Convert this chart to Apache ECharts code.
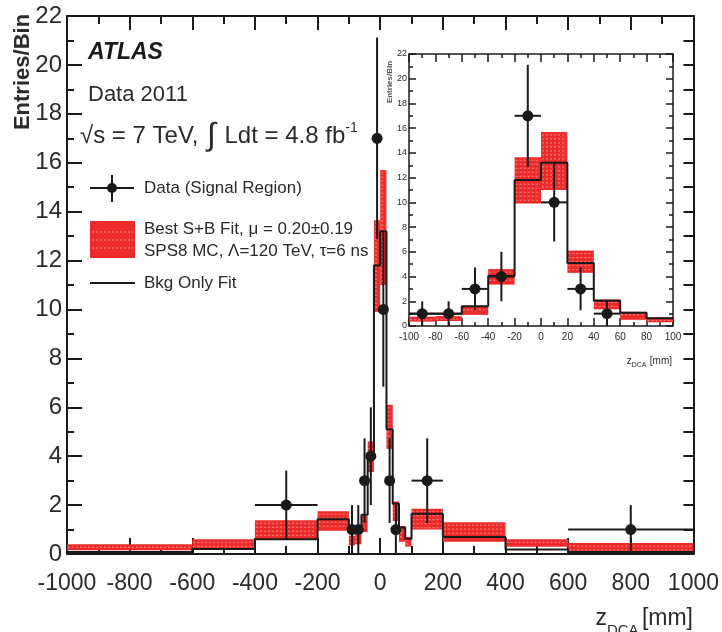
<!DOCTYPE html>
<html>
<head>
<meta charset="utf-8">
<script src="https://cdn.jsdelivr.net/npm/echarts@6/dist/echarts.min.js"></script>
<style>
  html, body { margin: 0; padding: 0; background: #fff; }
  #chart { width: 722px; height: 632px; }
</style>
</head>
<body>
<div id="chart"></div>
<script>
// Histogram bin edges along z_DCA (mm)
const binEdges = [-1000, -600, -400, -200, -100, -80, -60, -40, -20, 0, 20, 40, 60, 80, 100, 200, 400, 600, 1000];
// Best S+B fit: lower / upper edge of the uncertainty band per bin
const sbLow  = [0.15, 0.25, 0.60, 0.95, 0.35, 0.40, 0.90, 3.35, 9.90, 11.00, 4.30, 1.35, 0.50, 0.30, 1.00, 0.50, 0.30, 0.05];
const sbHigh = [0.40, 0.60, 1.38, 1.75, 0.75, 0.80, 1.55, 4.60, 13.65, 15.70, 6.10, 2.15, 1.15, 0.70, 1.85, 1.30, 0.60, 0.45];
// Background-only fit per bin
const bkgOnly = [0.08, 0.20, 0.60, 1.42, 1.00, 1.00, 1.60, 4.05, 11.80, 13.20, 5.10, 2.05, 1.08, 0.62, 1.65, 0.70, 0.18, 0.08];

// Data (signal region): bin centre, entries, error, bin half width
const dataZ      = [-300, -90, -70, -50, -30, -10, 10, 30, 50, 150, 800];
const dataCounts = [2, 1, 1, 3, 4, 17, 10, 3, 1, 3, 1];
const dataErr    = [1.41, 1.0, 1.0, 1.73, 2.0, 4.12, 3.16, 1.73, 1.0, 1.73, 1.0];
const dataHalfW  = [100, 10, 10, 10, 10, 10, 10, 10, 10, 50, 200];

// Axis tick labels
const mainXTicks  = [-1000, -800, -600, -400, -200, 0, 200, 400, 600, 800, 1000];
const mainYTicks  = [0, 2, 4, 6, 8, 10, 12, 14, 16, 18, 20, 22];
const insetXTicks = [-100, -80, -60, -40, -20, 0, 20, 40, 60, 80, 100];
const insetYTicks = [0, 2, 4, 6, 8, 10, 12, 14, 16, 18, 20, 22];

const FONT = "'Liberation Sans', Arial, Helvetica, sans-serif";
const INK = '#1a1a1a';
const TXT = '#2a2a2a';
const RED = '#ee2b2b';

function bandRows(lo, hi) {
  const rows = [];
  for (let i = 0; i < binEdges.length - 1; i++) {
    if (binEdges[i] >= lo && binEdges[i + 1] <= hi) {
      rows.push([binEdges[i], binEdges[i + 1], sbLow[i], sbHigh[i]]);
    }
  }
  return rows;
}
function stepRows(lo, hi) {
  const pts = [];
  for (let i = 0; i < binEdges.length - 1; i++) {
    if (binEdges[i] >= lo && binEdges[i + 1] <= hi) {
      pts.push([binEdges[i], bkgOnly[i]]);
      pts.push([binEdges[i + 1], bkgOnly[i]]);
    }
  }
  return pts;
}
function dataRows(lo, hi) {
  const rows = [];
  for (let i = 0; i < dataZ.length; i++) {
    if (dataZ[i] > lo && dataZ[i] < hi) rows.push([dataZ[i], dataCounts[i], dataErr[i], dataHalfW[i]]);
  }
  return rows;
}

// Red uncertainty band with a light dashed texture
function renderBand(params, api) {
  const p0 = api.coord([api.value(0), api.value(3)]);
  const p1 = api.coord([api.value(1), api.value(2)]);
  const x = p0[0], y = p0[1], w = p1[0] - p0[0], h = p1[1] - p0[1];
  const children = [{ type: 'rect', shape: { x: x, y: y, width: w, height: h }, style: { fill: RED } }];
  for (let yy = y + 3; yy < y + h - 1.5; yy += 4) {
    children.push({
      type: 'line',
      shape: { x1: x + 1, y1: yy, x2: x + w - 1, y2: yy },
      style: { stroke: 'rgba(255,205,205,0.6)', lineWidth: 1, lineDash: [2, 2] }
    });
  }
  return { type: 'group', children: children };
}

function makePointRenderer(radius, lw) {
  return function (params, api) {
    const xv = api.value(0), yv = api.value(1), e = api.value(2), hw = api.value(3);
    const c = api.coord([xv, yv]);
    const top = api.coord([xv, Math.min(yv + e, 22)]);
    const bot = api.coord([xv, Math.max(yv - e, 0)]);
    const l = api.coord([xv - hw, yv]);
    const r = api.coord([xv + hw, yv]);
    return {
      type: 'group',
      children: [
        { type: 'line', shape: { x1: c[0], y1: top[1], x2: c[0], y2: bot[1] }, style: { stroke: INK, lineWidth: lw } },
        { type: 'line', shape: { x1: l[0], y1: c[1], x2: r[0], y2: c[1] }, style: { stroke: INK, lineWidth: lw } },
        { type: 'circle', shape: { cx: c[0], cy: c[1], r: radius }, style: { fill: INK } }
      ]
    };
  };
}

function frameAxis(gridIndex, pos, ticks, opts) {
  return {
    type: 'value',
    gridIndex: gridIndex,
    position: pos,
    min: ticks[0],
    max: ticks[ticks.length - 1],
    interval: ticks[1] - ticks[0],
    splitLine: { show: false },
    axisLine: { show: true, onZero: false, lineStyle: { color: INK, width: opts.axisW } },
    axisTick: { show: true, inside: true, length: opts.tick, lineStyle: { color: INK, width: opts.tickW } },
    minorTick: { show: true, splitNumber: 2, length: opts.minor, lineStyle: { color: INK, width: opts.tickW } },
    axisLabel: opts.label ? {
      show: true, fontFamily: FONT, fontSize: opts.fontSize, color: TXT, margin: opts.margin,
      formatter: function (v) { return String(v); }
    } : { show: false }
  };
}

const chart = echarts.init(document.getElementById('chart'), null, { renderer: 'canvas' });

const option = {
  backgroundColor: '#ffffff',
  animation: false,
  grid: [
    { left: 67, top: 16, width: 628, height: 538, show: true, backgroundColor: '#fff', borderWidth: 0 },
    { left: 409, top: 54, width: 264, height: 272, show: true, backgroundColor: '#fff', borderWidth: 0 }
  ],
  xAxis: [
    frameAxis(0, 'bottom', mainXTicks, { axisW: 2, tick: 16, minor: 8, tickW: 2, label: true, fontSize: 23, margin: 18 }),
    frameAxis(0, 'top', mainXTicks, { axisW: 2, tick: 14, minor: 8, tickW: 2, label: false }),
    frameAxis(1, 'bottom', insetXTicks, { axisW: 1.5, tick: 8, minor: 4, tickW: 1.5, label: true, fontSize: 10, margin: 6 }),
    frameAxis(1, 'top', insetXTicks, { axisW: 1.5, tick: 8, minor: 4, tickW: 1.5, label: false })
  ],
  yAxis: [
    frameAxis(0, 'left', mainYTicks, { axisW: 2, tick: 15, minor: 7, tickW: 2, label: true, fontSize: 24, margin: 5 }),
    frameAxis(0, 'right', mainYTicks, { axisW: 2, tick: 10, minor: 10, tickW: 2, label: false }),
    frameAxis(1, 'left', insetYTicks, { axisW: 1.5, tick: 7, minor: 4, tickW: 1.5, label: true, fontSize: 9, margin: 2 }),
    frameAxis(1, 'right', insetYTicks, { axisW: 1.5, tick: 7, minor: 4, tickW: 1.5, label: false })
  ],
  series: [
    {
      type: 'custom', name: 'S+B band', xAxisIndex: 0, yAxisIndex: 0, z: 2,
      renderItem: renderBand, encode: { x: [0, 1], y: [2, 3] }, data: bandRows(-1000, 1000)
    },
    {
      type: 'line', name: 'Bkg only', xAxisIndex: 0, yAxisIndex: 0, z: 3,
      showSymbol: false, symbol: 'none', lineStyle: { color: INK, width: 2 }, data: stepRows(-1000, 1000)
    },
    {
      type: 'custom', name: 'Data', xAxisIndex: 0, yAxisIndex: 0, z: 4,
      renderItem: makePointRenderer(5.5, 2), encode: { x: 0, y: 1 }, data: dataRows(-1000, 1000)
    },
    {
      type: 'custom', name: 'S+B band inset', xAxisIndex: 2, yAxisIndex: 2, z: 12,
      renderItem: renderBand, encode: { x: [0, 1], y: [2, 3] }, data: bandRows(-100, 100)
    },
    {
      type: 'line', name: 'Bkg only inset', xAxisIndex: 2, yAxisIndex: 2, z: 13,
      showSymbol: false, symbol: 'none', lineStyle: { color: INK, width: 2 }, data: stepRows(-100, 100)
    },
    {
      type: 'custom', name: 'Data inset', xAxisIndex: 2, yAxisIndex: 2, z: 14,
      renderItem: makePointRenderer(5.5, 2), encode: { x: 0, y: 1 }, data: dataRows(-100, 100)
    }
  ],
  graphic: [
    // axis titles
    {
      type: 'text', x: 23, y: 72, rotation: Math.PI / 2,
      style: { text: 'Entries/Bin', font: 'bold 22px ' + FONT, fill: TXT, align: 'center', verticalAlign: 'middle' }
    },
    {
      type: 'text', x: 693, y: 619,
      style: {
        text: '{z|z}{s|DCA} {m|[mm]}', align: 'right', verticalAlign: 'middle',
        rich: {
          z: { font: '23px ' + FONT, fill: TXT, verticalAlign: 'bottom' },
          s: { font: '15px ' + FONT, fill: TXT, verticalAlign: 'bottom', padding: [0, 0, -8, 0] },
          m: { font: '23px ' + FONT, fill: TXT, verticalAlign: 'bottom' }
        }
      }
    },
    {
      type: 'text', x: 672, y: 360,
      style: {
        text: '{z|z}{s|DCA} {m|[mm]}', align: 'right', verticalAlign: 'middle',
        rich: {
          z: { font: '10px ' + FONT, fill: TXT, verticalAlign: 'bottom' },
          s: { font: '7px ' + FONT, fill: TXT, verticalAlign: 'bottom', padding: [0, 0, -3, 0] },
          m: { font: '10px ' + FONT, fill: TXT, verticalAlign: 'bottom' }
        }
      }
    },
    {
      type: 'text', x: 390, y: 82, rotation: Math.PI / 2, z: 100,
      style: { text: 'Entries/Bin', font: 'bold 8px ' + FONT, fill: '#555', align: 'center', verticalAlign: 'middle' }
    },
    // experiment labels
    {
      type: 'text', x: 88, y: 53,
      style: { text: 'ATLAS', font: 'italic bold 23px ' + FONT, fill: INK, verticalAlign: 'middle' }
    },
    {
      type: 'text', x: 88, y: 95,
      style: { text: 'Data 2011', font: '22px ' + FONT, fill: TXT, verticalAlign: 'middle' }
    },
    {
      type: 'text', x: 80, y: 136,
      style: {
        text: '{t|√s = 7 TeV, }{i|∫}{t| Ldt = 4.8 fb}{e|-1}', verticalAlign: 'middle',
        rich: {
          t: { font: '24px ' + FONT, fill: TXT },
          i: { font: '32px ' + FONT, fill: TXT, padding: [0, 2, 0, 2] },
          e: { font: '14px ' + FONT, fill: TXT, padding: [0, 0, 16, 0] }
        }
      }
    },
    // legend: data
    { type: 'line', shape: { x1: 90, y1: 188, x2: 134, y2: 188 }, style: { stroke: INK, lineWidth: 2 } },
    { type: 'line', shape: { x1: 112, y1: 175, x2: 112, y2: 202 }, style: { stroke: INK, lineWidth: 2 } },
    { type: 'circle', shape: { cx: 112, cy: 188, r: 5 }, style: { fill: INK } },
    {
      type: 'text', x: 144, y: 188,
      style: { text: 'Data (Signal Region)', font: '17px ' + FONT, fill: TXT, verticalAlign: 'middle' }
    },
    // legend: S+B band
    { type: 'rect', shape: { x: 90, y: 221, width: 45, height: 37 }, style: { fill: RED } },
    { type: 'line', shape: { x1: 92, y1: 232, x2: 133, y2: 232 }, style: { stroke: 'rgba(255,205,205,0.6)', lineWidth: 1, lineDash: [2, 2] } },
    { type: 'line', shape: { x1: 92, y1: 240, x2: 133, y2: 240 }, style: { stroke: 'rgba(255,205,205,0.6)', lineWidth: 1, lineDash: [2, 2] } },
    { type: 'line', shape: { x1: 92, y1: 248, x2: 133, y2: 248 }, style: { stroke: 'rgba(255,205,205,0.6)', lineWidth: 1, lineDash: [2, 2] } },
    {
      type: 'text', x: 144, y: 229,
      style: { text: 'Best S+B Fit, μ = 0.20±0.19', font: '17px ' + FONT, fill: TXT, verticalAlign: 'middle' }
    },
    {
      type: 'text', x: 144, y: 251,
      style: { text: 'SPS8 MC, Λ=120 TeV, τ=6 ns', font: '17px ' + FONT, fill: TXT, verticalAlign: 'middle' }
    },
    // legend: background only
    { type: 'line', shape: { x1: 90, y1: 283, x2: 135, y2: 283 }, style: { stroke: INK, lineWidth: 2 } },
    {
      type: 'text', x: 144, y: 283,
      style: { text: 'Bkg Only Fit', font: '17px ' + FONT, fill: TXT, verticalAlign: 'middle' }
    }
  ]
};

chart.setOption(option);
</script>
</body>
</html>
